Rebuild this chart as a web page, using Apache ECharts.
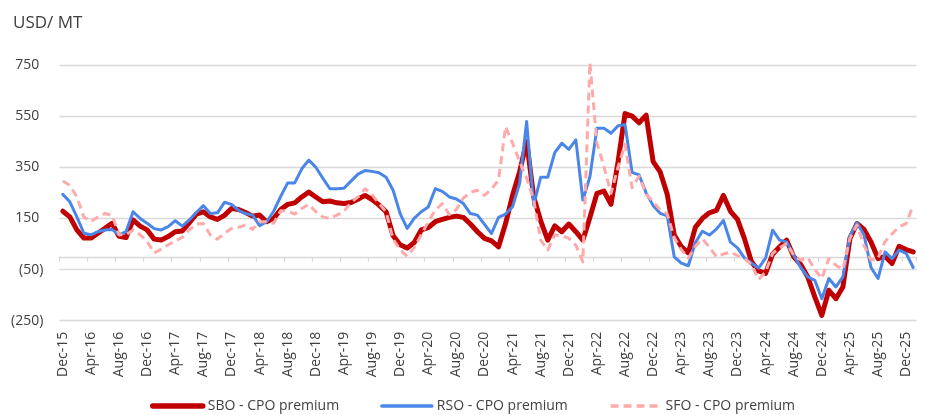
<!DOCTYPE html>
<html>
<head>
<meta charset="utf-8">
<script src="https://cdn.jsdelivr.net/npm/echarts@6/dist/echarts.min.js"></script>
<style>
html,body{margin:0;padding:0;background:#fff;}
#chart{width:925px;height:415px;}
</style>
</head>
<body>
<div id="chart"></div>
<script>
// Monthly categories, Dec-15 .. Jan-26
const categories = [
 'Dec-15',
 'Jan-16','Feb-16','Mar-16','Apr-16','May-16','Jun-16','Jul-16','Aug-16','Sep-16','Oct-16','Nov-16','Dec-16',
 'Jan-17','Feb-17','Mar-17','Apr-17','May-17','Jun-17','Jul-17','Aug-17','Sep-17','Oct-17','Nov-17','Dec-17',
 'Jan-18','Feb-18','Mar-18','Apr-18','May-18','Jun-18','Jul-18','Aug-18','Sep-18','Oct-18','Nov-18','Dec-18',
 'Jan-19','Feb-19','Mar-19','Apr-19','May-19','Jun-19','Jul-19','Aug-19','Sep-19','Oct-19','Nov-19','Dec-19',
 'Jan-20','Feb-20','Mar-20','Apr-20','May-20','Jun-20','Jul-20','Aug-20','Sep-20','Oct-20','Nov-20','Dec-20',
 'Jan-21','Feb-21','Mar-21','Apr-21','May-21','Jun-21','Jul-21','Aug-21','Sep-21','Oct-21','Nov-21','Dec-21',
 'Jan-22','Feb-22','Mar-22','Apr-22','May-22','Jun-22','Jul-22','Aug-22','Sep-22','Oct-22','Nov-22','Dec-22',
 'Jan-23','Feb-23','Mar-23','Apr-23','May-23','Jun-23','Jul-23','Aug-23','Sep-23','Oct-23','Nov-23','Dec-23',
 'Jan-24','Feb-24','Mar-24','Apr-24','May-24','Jun-24','Jul-24','Aug-24','Sep-24','Oct-24','Nov-24','Dec-24',
 'Jan-25','Feb-25','Mar-25','Apr-25','May-25','Jun-25','Jul-25','Aug-25','Sep-25','Oct-25','Nov-25','Dec-25',
 'Jan-26'
];

// SBO - CPO premium (USD/MT)
const sbo = [
 178,
 156,105,73,73,92,111,131,80,75,144,120,105,
 69,66,79,98,101,133,167,176,156,146,162,189,
 185,173,159,163,137,150,185,205,211,234,253,234,
 215,218,211,208,212,225,240,224,202,176,82,47,
 34,56,105,114,137,146,154,159,154,128,98,72,
 62,39,130,241,333,451,235,140,65,121,98,128,
 98,65,154,248,257,205,370,560,550,524,554,372,
 332,245,85,40,15,115,150,172,181,240,178,146,
 70,-20,-55,-65,10,39,65,0,-30,-79,-157,-229,
 -131,-164,-118,72,130,107,58,-7,2,-26,41,28,
 19
];

// RSO - CPO premium (USD/MT)
const rso = [
 244,
 215,156,92,86,98,105,107,86,98,176,150,131,
 110,105,118,141,120,144,173,200,169,172,213,205,
 182,169,163,122,137,178,236,289,289,344,378,350,
 307,266,266,268,296,323,337,334,329,311,260,169,
 111,150,176,195,266,256,234,226,208,169,163,127,
 91,154,167,196,287,529,202,311,311,407,444,420,
 457,222,313,503,503,483,512,516,330,320,250,200,
 170,160,0,-25,-35,55,100,85,108,142,57,35,
 -5,-25,-44,-5,104,65,58,6,-42,-79,-92,-164,
 -85,-118,-79,81,133,85,-42,-85,19,-7,26,13,
 -42
];

// SFO - CPO premium (USD/MT)
const sfo = [
 296,
 279,234,156,138,156,169,163,86,86,105,86,60,
 15,30,47,62,76,105,128,130,85,69,92,111,
 115,124,107,137,137,131,180,178,167,189,205,176,
 156,150,163,178,212,234,266,243,208,176,69,27,
 2,36,86,137,182,208,165,185,230,252,260,240,
 265,300,509,444,372,307,222,65,26,85,82,72,
 45,-20,760,444,353,248,350,440,270,315,245,215,
 184,168,75,28,-5,40,70,38,0,11,18,5,
 -8,-30,-89,-59,13,35,52,6,-13,-3,-50,-85,
 -7,-33,-50,72,124,45,-13,-5,60,90,117,130,
 202
];

const seriesNames = ['SBO - CPO premium', 'RSO - CPO premium', 'SFO - CPO premium'];
const yTicks = { min: -250, max: 750, step: 200 };
const unitLabel = 'USD/ MT';

const FONT = '"Open Sans", "Noto Sans", sans-serif';
const TXT = '#404040';
const GRID = '#d9d9d9';
const C_SBO = '#c00000', C_RSO = '#4a86e8', C_SFO = '#ffaaaa';

const chart = echarts.init(document.getElementById('chart'), null, { renderer: 'canvas' });
chart.setOption({
  animation: false,
  backgroundColor: '#ffffff',
  title: {
    text: unitLabel,
    left: 8,
    top: 10,
    textStyle: { fontFamily: FONT, fontSize: 17, fontWeight: 'normal', color: TXT }
  },
  grid: { left: 59.3, right: 8.3, top: 65, bottom: 94.3, outerBoundsMode: 'none', containLabel: false },
  legend: {
    left: 145,
    top: 394,
    itemWidth: 50,
    itemHeight: 14,
    itemGap: 41,
    itemStyle: { opacity: 0 },
    textStyle: { fontFamily: FONT, fontSize: 14, color: TXT },
    data: [
      { name: seriesNames[0], lineStyle: { width: 5.5, color: C_SBO, cap: 'round' } },
      { name: seriesNames[1], lineStyle: { width: 3.5, color: C_RSO, cap: 'round' } },
      { name: seriesNames[2], lineStyle: { width: 3.5, color: C_SFO, type: [8, 5] } }
    ]
  },
  xAxis: [
    {
      type: 'category',
      data: categories,
      boundaryGap: true,
      position: 'bottom',
      axisLine: { show: true, onZero: true, lineStyle: { color: GRID, width: 1.3 } },
      axisTick: { show: true, interval: 3, length: 5, lineStyle: { color: GRID, width: 1.3 } },
      axisLabel: { show: false, interval: 3 },
      splitLine: { show: false }
    },
    {
      type: 'category',
      data: categories,
      boundaryGap: true,
      position: 'bottom',
      axisLine: { show: false, onZero: false },
      axisTick: { show: false },
      axisLabel: {
        show: true, interval: 3, rotate: 90, margin: 11,
        fontFamily: FONT, fontSize: 14, color: TXT
      },
      splitLine: { show: false }
    }
  ],
  yAxis: {
    type: 'value',
    min: yTicks.min,
    max: yTicks.max,
    interval: yTicks.step,
    axisLine: { show: false },
    axisTick: { show: false },
    splitLine: { show: true, lineStyle: { color: GRID, width: 1.3 } },
    axisLabel: {
      margin: 16,
      fontFamily: FONT, fontSize: 14, color: TXT,
      formatter: function (v) {
        return v < 0 ? '{n|(' + Math.abs(v) + ')}' : '{p|' + v + '}';
      },
      rich: {
        p: { fontFamily: FONT, fontSize: 14, color: TXT, padding: [0, 4, 0, 0] },
        n: { fontFamily: FONT, fontSize: 14, color: TXT }
      }
    }
  },
  series: [
    {
      name: seriesNames[0], type: 'line', data: sbo, xAxisIndex: 0,
      symbol: 'none', color: C_SBO,
      lineStyle: { width: 5, color: C_SBO, cap: 'round', join: 'round' }
    },
    {
      name: seriesNames[1], type: 'line', data: rso, xAxisIndex: 0,
      symbol: 'none', color: C_RSO,
      lineStyle: { width: 3, color: C_RSO, cap: 'round', join: 'round' }
    },
    {
      name: seriesNames[2], type: 'line', data: sfo, xAxisIndex: 0,
      symbol: 'none', color: C_SFO,
      lineStyle: { width: 3, color: C_SFO, type: [8, 5], cap: 'butt', join: 'round' }
    }
  ]
});
</script>
</body>
</html>
